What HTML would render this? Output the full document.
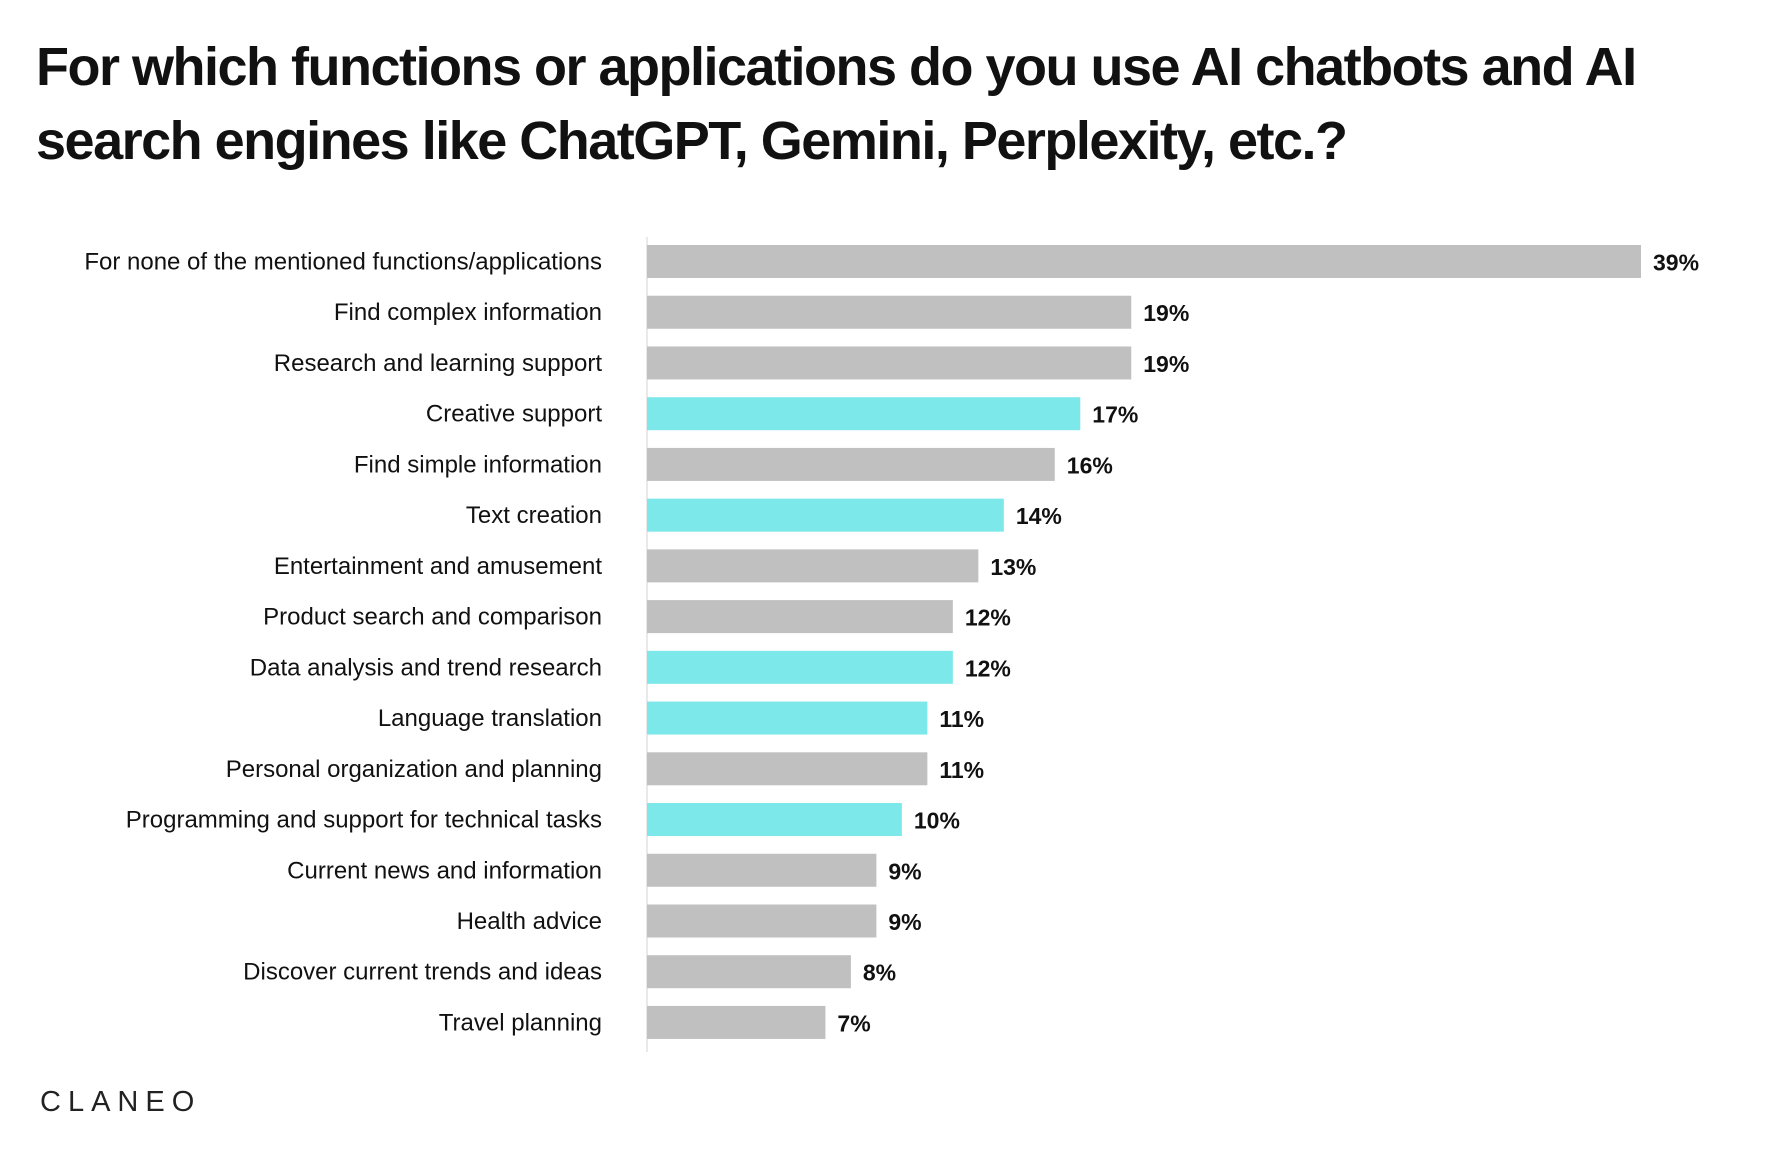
<!DOCTYPE html>
<html><head><meta charset="utf-8">
<style>
body{margin:0;background:#fff;width:1766px;height:1160px;overflow:hidden;font-family:"Liberation Sans",Arial,sans-serif}
#title{position:absolute;left:36px;top:30px;width:1720px;font-weight:bold;font-size:54px;line-height:74px;letter-spacing:-1.5px;color:#111;margin:0}
#logo{position:absolute;left:40px;top:1086px;font-size:29px;letter-spacing:7px;color:#222;font-weight:normal}
</style></head><body>
<h1 id="title">For which functions or applications do you use AI chatbots and AI search engines like ChatGPT, Gemini, Perplexity, etc.?</h1>
<svg id="chart" width="1766" height="1160" style="position:absolute;left:0;top:0"></svg>
<div id="logo">CLANEO</div>
<script>
const categories=["For none of the mentioned functions/applications","Find complex information","Research and learning support","Creative support","Find simple information","Text creation","Entertainment and amusement","Product search and comparison","Data analysis and trend research","Language translation","Personal organization and planning","Programming and support for technical tasks","Current news and information","Health advice","Discover current trends and ideas","Travel planning"];
const values=[39,19,19,17,16,14,13,12,12,11,11,10,9,9,8,7];
const highlighted=[0,0,0,1,0,1,0,0,1,1,0,1,0,0,0,0];
const svg=document.getElementById('chart');
const NS='http://www.w3.org/2000/svg';
const x0=647, pxPer=994/39, y0=245, pitch=50.73, bh=33;
const x=v=>x0+v*pxPer;
const y=i=>y0+i*pitch;
const axis=document.createElementNS(NS,'line');


axis.setAttribute('x1',x0);axis.setAttribute('x2',x0);axis.setAttribute('y1',237);axis.setAttribute('y2',1052);
axis.setAttribute('stroke','#e2e2e2');axis.setAttribute('stroke-width','1.5');
svg.appendChild(axis);
categories.forEach((c,i)=>{
  const r=document.createElementNS(NS,'rect');
  
  
  r.setAttribute('x',x0);r.setAttribute('y',y(i));r.setAttribute('width',x(values[i])-x0);r.setAttribute('height',bh);
  r.setAttribute('fill',highlighted[i]?'#7de8ea':'#c0c0c0');
  svg.appendChild(r);
  const t=document.createElementNS(NS,'text');
  
  
  t.setAttribute('x',x0-45);t.setAttribute('y',y(i)+bh/2+8);t.setAttribute('text-anchor','end');
  t.setAttribute('font-size','24');t.setAttribute('fill','#111');
  t.textContent=c;svg.appendChild(t);
  const v=document.createElementNS(NS,'text');
  
  
  v.setAttribute('x',x(values[i])+12);v.setAttribute('y',y(i)+bh/2+9);
  v.setAttribute('font-size','23');v.setAttribute('font-weight','bold');v.setAttribute('fill','#111');
  v.textContent=values[i]+'%';svg.appendChild(v);
});
</script>
</body></html>
